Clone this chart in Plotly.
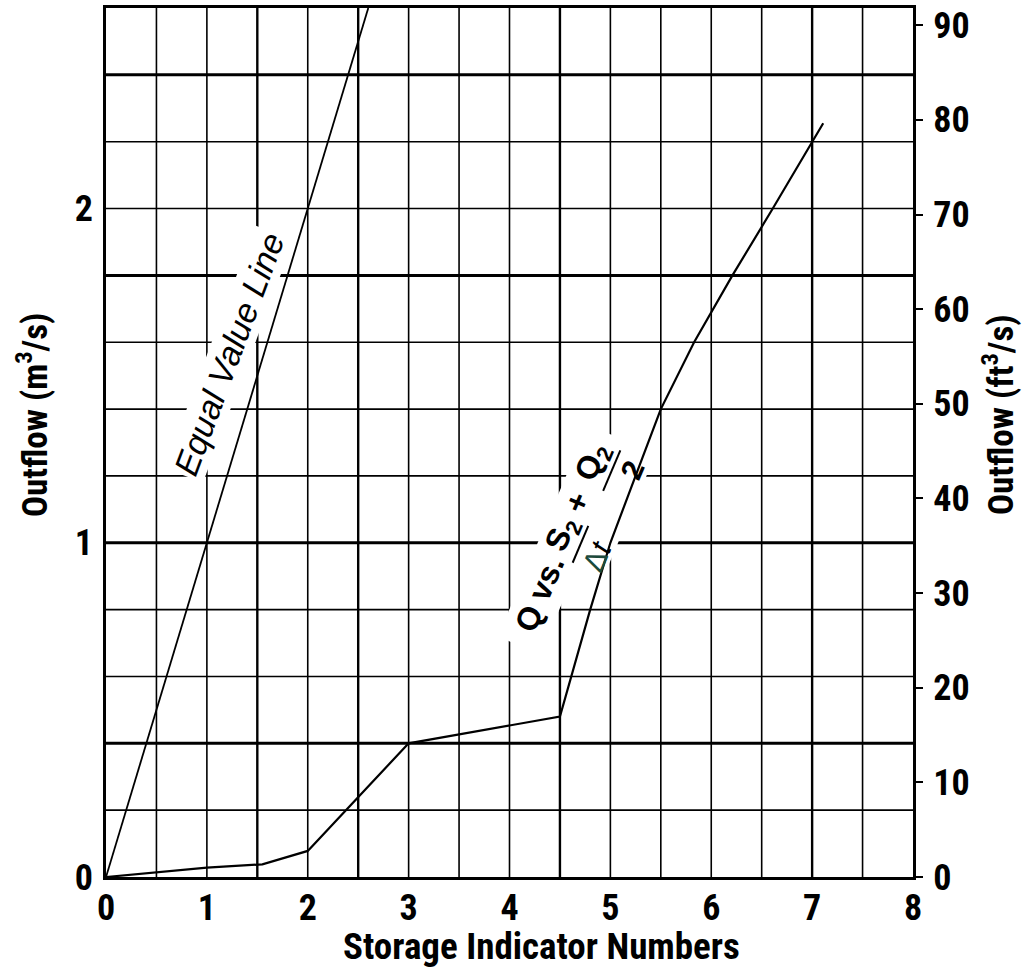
import math
import numpy as np
import plotly.graph_objects as go

# ---- data: outflow (m^3/s) against storage indicator number ----
equal_x = [0.0, 2.6]
equal_q = [0.0, 2.6]

curve_x = [0.0, 0.5, 1.0, 1.55, 2.0, 3.0, 4.5, 4.8, 5.0, 5.25, 5.5, 5.83, 6.0, 6.21, 6.61, 7.0, 7.11]
curve_q = [0.0, 0.015, 0.028, 0.038, 0.078, 0.40, 0.48, 0.80, 1.0, 1.2, 1.4, 1.6, 1.69, 1.8, 2.0, 2.2, 2.255]

x_ticks = [0, 1, 2, 3, 4, 5, 6, 7, 8]
q_ticks_m3 = [0, 1, 2]
q_ticks_ft3 = [0, 10, 20, 30, 40, 50, 60, 70, 80, 90]

M3_TO_FT3 = 35.3147
X_MAX, Q_MAX = 8.0, 2.6

# ---- page geometry ----
W, H = 1023, 967
ML, MR, MT, MB = 106, 110, 8, 90
PW, PH = W - ML - MR, H - MT - MB
PX_X = PW / X_MAX          # pixels per storage unit
PX_Q = PH / Q_MAX          # pixels per m^3/s

COND = "Roboto Condensed, Open Sans Condensed, Liberation Sans, sans-serif"
SANS = "Liberation Sans, Arial, sans-serif"

fig = go.Figure()

# ---- grid (thin / heavy rules) ----
shapes = []
thick_q = {0.4, 1.0, 1.8, 2.4}
thick_x = {1.5, 2.5, 4.5, 7.0}
for gx in np.arange(0.5, X_MAX, 0.5):
    gx = round(float(gx), 2)
    shapes.append(dict(type="line", xref="x", yref="paper", x0=gx, x1=gx, y0=0, y1=1,
                       line=dict(color="black", width=2.4 if gx in thick_x else 1.6),
                       layer="below"))
for gq in np.arange(0.2, Q_MAX - 0.1, 0.2):
    gq = round(float(gq), 2)
    shapes.append(dict(type="line", xref="paper", yref="y", x0=0, x1=1, y0=gq, y1=gq,
                       line=dict(color="black", width=3.0 if gq in thick_q else 1.6),
                       layer="below"))

# ---- rotated label helpers (offsets in pixels along / across the text) ----
def along(anchor, ang_deg, s, p):
    a = math.radians(ang_deg)
    rx, ry = math.cos(a), math.sin(a)          # reading direction (y up)
    nx, ny = -math.sin(a), math.cos(a)         # towards top of letters
    return (anchor[0] + (s * rx + p * nx) / PX_X,
            anchor[1] + (s * ry + p * ny) / PX_Q)

Q_ANG = 67.0
q_anchor = (4.183, 0.763)

# white patch behind the curve label (under the traces, over the grid)
patch = [(-25, 22), (205, 22), (205, -52), (60, -52), (60, -24), (-25, -24)]
pts = [along(q_anchor, Q_ANG, s, p) for s, p in patch]
path = "M " + " L ".join(f"{px:.4f},{py:.4f}" for px, py in pts) + " Z"
shapes.append(dict(type="path", xref="x", yref="y", path=path,
                   fillcolor="white", line=dict(width=0), layer="below"))

# fraction bars
for s0, s1, p in [(72, 112, -18), (150, 194, -18)]:
    (x0, y0), (x1, y1) = along(q_anchor, Q_ANG, s0, p), along(q_anchor, Q_ANG, s1, p)
    shapes.append(dict(type="line", xref="x", yref="y", x0=x0, y0=y0, x1=x1, y1=y1,
                       line=dict(color="black", width=2), layer="below"))

# ---- curves ----
fig.add_trace(go.Scatter(x=equal_x, y=equal_q, mode="lines",
                         line=dict(color="black", width=1.8), showlegend=False,
                         hoverinfo="skip"))
fig.add_trace(go.Scatter(x=curve_x, y=curve_q, mode="lines",
                         line=dict(color="black", width=2.2), showlegend=False,
                         hoverinfo="skip"))
# right-hand axis in ft^3/s
fig.add_trace(go.Scatter(x=[None], y=[None], yaxis="y2", showlegend=False,
                         hoverinfo="skip"))

# ---- annotations ----
ann = []
ann.append(dict(x=1.22, y=1.565, xref="x", yref="y", text="<i>Equal Value Line</i>",
                textangle=-69.5, showarrow=False, bgcolor="white", borderpad=1,
                xanchor="center", yanchor="middle",
                font=dict(family=SANS, size=34, color="black")))

label_parts = [
    ("<b>Q vs.</b>", 30, 0, 32),
    ("<b>S<sub>2</sub></b>", 94, 2, 32),
    ("<b>+</b>", 130, 2, 32),
    ("<b>Q<sub>2</sub></b>", 172, 2, 32),
    ("<span style='color:#1c4a3c'>Δ</span><i>t</i>", 88, -38, 30),
    ("<b>2</b>", 181, -37, 30),
]
for txt, s, p, fs in label_parts:
    lx, ly = along(q_anchor, Q_ANG, s, p)
    ann.append(dict(x=lx, y=ly, xref="x", yref="y", text=txt, textangle=-Q_ANG,
                    showarrow=False, xanchor="center", yanchor="middle",
                    font=dict(family=SANS, size=fs, color="black")))

# axis titles
title_font = dict(family=COND, size=35, color="black", weight="bold")
ann.append(dict(x=0, y=(H - MB - 415) / PH, xref="paper", yref="paper", xshift=-(ML - 32),
                xanchor="center", yanchor="middle",
                text="Outflow (m<sup>3</sup>/s)", textangle=-90, showarrow=False,
                font=title_font))
ann.append(dict(x=1, y=(H - MB - 415) / PH, xref="paper", yref="paper",
                xshift=998 - (W - MR), xanchor="center", yanchor="middle",
                text="Outflow (ft<sup>3</sup>/s)", textangle=-90, showarrow=False,
                font=title_font))
ann.append(dict(x=(541 - ML) / PW, y=0, xref="paper", yref="paper", yshift=-(946 - (H - MB)),
                xanchor="center", yanchor="middle",
                text="Storage Indicator Numbers", showarrow=False,
                font=dict(family=COND, size=37, color="black", weight="bold")))

tick_font = dict(family=COND, size=36, color="black", weight="bold")

fig.update_layout(
    width=W, height=H,
    margin=dict(l=ML, r=MR, t=MT, b=MB, autoexpand=False),
    paper_bgcolor="white", plot_bgcolor="white",
    shapes=shapes, annotations=ann,
    xaxis=dict(range=[0, X_MAX], tickvals=x_ticks, ticks="", showgrid=False,
               zeroline=False, showline=True, mirror=True, linecolor="black",
               linewidth=2.5, tickfont=tick_font, ticklabelstandoff=-3,
               automargin=False, fixedrange=True),
    yaxis=dict(range=[0, Q_MAX], tickvals=q_ticks_m3, ticks="", showgrid=False,
               zeroline=False, showline=True, mirror=True, linecolor="black",
               linewidth=2.5, tickfont=tick_font, ticklabelstandoff=3,
               automargin=False, fixedrange=True),
    yaxis2=dict(range=[0, Q_MAX * M3_TO_FT3], tickvals=q_ticks_ft3, overlaying="y",
                side="right", ticks="outside", ticklen=9, tickwidth=2, tickcolor="black",
                showgrid=False, zeroline=False, showline=False, tickfont=tick_font,
                ticklabelstandoff=3, automargin=False, fixedrange=True),
)

fig.write_html("out.html")
